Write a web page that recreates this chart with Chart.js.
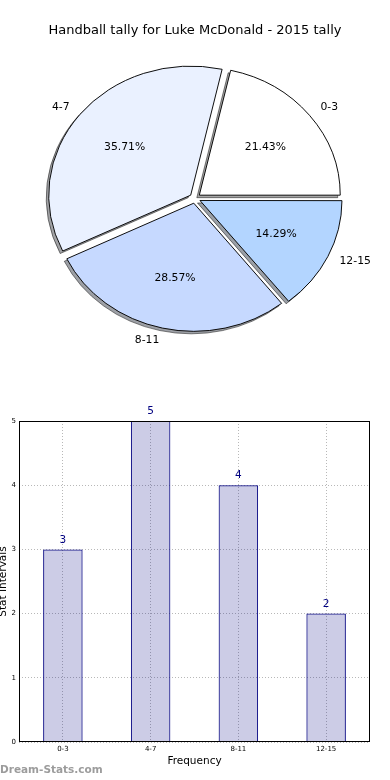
<!DOCTYPE html>
<html>
<head>
<meta charset="utf-8">
<script src="https://cdn.jsdelivr.net/npm/chart.js@4.4.1/dist/chart.umd.min.js"></script>
<style>
  html, body { margin: 0; padding: 0; background: #fff; width: 390px; height: 780px; overflow: hidden; }
  #pieCanvas { position: absolute; left: 0; top: 0; }
  #barCanvas { position: absolute; left: 0; top: 390px; }
  #wm { position: absolute; left: 0; top: 763px; font: bold 10.5px "DejaVu Sans", sans-serif; line-height: 12px; color: #9c9c9c; white-space: nowrap; }
</style>
</head>
<body>
<canvas id="pieCanvas" width="390" height="358"></canvas>
<canvas id="barCanvas" width="390" height="390"></canvas>
<div id="wm">Dream-Stats.com</div>
<script>
// ---- data ----
const categories = ['0-3', '4-7', '8-11', '12-15'];
const counts = [3, 5, 4, 2];
const sliceColors = ['#ffffff', '#eaf1ff', '#c6d9ff', '#b3d5ff'];
const yTickValues = [0, 1, 2, 3, 4, 5];
const pieTitle = 'Handball tally for Luke McDonald - 2015 tally';
const xAxisTitle = 'Frequency';
const yAxisTitle = 'Stat Intervals';

// ---- pie (matplotlib draws counter-clockwise from 3 o'clock; Chart.js clockwise) ----
const pieLabels = categories.slice().reverse();
const pieValues = counts.slice().reverse();
const pieColors = sliceColors.slice().reverse();
const total = counts.reduce((a, b) => a + b, 0);

const SX = 1.1;          // horizontal stretch of the pie (ellipse)
const FONT = '"DejaVu Sans", sans-serif';

function hexToRgb(h) {
  const n = parseInt(h.slice(1), 16);
  return [(n >> 16) & 255, (n >> 8) & 255, n & 255];
}

const ellipsePlugin = {
  id: 'ellipsePie',
  beforeDatasetsDraw(chart) {
    const ctx = chart.ctx, a = chart.chartArea;
    const cx = (a.left + a.right) / 2, cy = (a.top + a.bottom) / 2;
    ctx.save();
    ctx.translate(cx, cy);
    ctx.scale(SX, 1);
    ctx.translate(-cx, -cy);
    // shadow pass
    const meta = chart.getDatasetMeta(0);
    ctx.save();
    ctx.translate(-2.5 / SX, 2.5);
    meta.data.forEach((arc, i) => {
      const rgb = hexToRgb(pieColors[i]);
      const clone = Object.create(Object.getPrototypeOf(arc));
      Object.assign(clone, arc);
      clone.options = Object.assign({}, arc.options, {
        backgroundColor: `rgba(${rgb[0] * 0.3},${rgb[1] * 0.3},${rgb[2] * 0.3},0.5)`,
        borderColor: 'rgba(0,0,0,0.5)'
      });
      clone.draw(ctx);
    });
    ctx.restore();
  },
  afterDatasetsDraw(chart) {
    const ctx = chart.ctx;
    ctx.restore();
    const a = chart.chartArea;
    const cx = (a.left + a.right) / 2, cy = (a.top + a.bottom) / 2;
    const meta = chart.getDatasetMeta(0);
    ctx.save();
    ctx.fillStyle = '#000';
    ctx.font = `10.8px ${FONT}`;
    ctx.textBaseline = 'middle';
    meta.data.forEach((arc, i) => {
      const mid = (arc.startAngle + arc.endAngle) / 2;
      const d = (arc.options.offset || 0) / 4;
      const R = arc.outerRadius;
      const c = Math.cos(mid), s = Math.sin(mid);
      // outer label
      const lx = cx + SX * c * (d + 1.1 * R);
      const ly = cy + s * (d + 1.1 * R);
      ctx.textAlign = c > 0 ? 'left' : 'right';
      ctx.fillText(pieLabels[i], lx, ly);
      // percentage
      const px = cx + SX * c * (d + 0.6 * R);
      const py = cy + s * (d + 0.6 * R);
      ctx.textAlign = 'center';
      ctx.fillText((pieValues[i] / total * 100).toFixed(2) + '%', px, py);
    });
    ctx.restore();
  }
};

new Chart(document.getElementById('pieCanvas'), {
  type: 'pie',
  data: {
    labels: pieLabels,
    datasets: [{
      data: pieValues,
      backgroundColor: pieColors,
      borderColor: '#000',
      borderWidth: 0.9,
      offset: 20,
      hoverOffset: 20
    }]
  },
  options: {
    responsive: false,
    animation: false,
    events: [],
    rotation: 90,
    radius: 128,
    layout: { padding: 0 },
    plugins: {
      legend: { display: false },
      tooltip: { enabled: false },
      title: {
        display: true,
        text: pieTitle,
        color: '#000',
        font: { family: FONT, size: 13, weight: 'normal' },
        padding: { top: 23, bottom: 0 }
      }
    }
  },
  plugins: [ellipsePlugin]
});

// ---- bar chart ----
const barExtras = {
  id: 'barExtras',
  afterDatasetsDraw(chart) {
    const ctx = chart.ctx;
    const meta = chart.getDatasetMeta(0);
    ctx.save();
    ctx.fillStyle = '#000080';
    ctx.font = `10.5px ${FONT}`;
    ctx.textAlign = 'center';
    ctx.textBaseline = 'middle';
    meta.data.forEach((bar, i) => {
      ctx.fillText(String(counts[i]), bar.x, bar.y - 9.5);
    });
    ctx.restore();
  },
  afterDraw(chart) {
    const ctx = chart.ctx, a = chart.chartArea;
    ctx.save();
    ctx.strokeStyle = '#000';
    ctx.lineWidth = 1;
    ctx.strokeRect(Math.round(a.left) + 0.5, Math.round(a.top) + 0.5,
                   Math.round(a.right - a.left) - 1, Math.round(a.bottom - a.top) - 1);
    ctx.restore();
  }
};

new Chart(document.getElementById('barCanvas'), {
  type: 'bar',
  data: {
    labels: categories,
    datasets: [{
      data: counts,
      backgroundColor: 'rgba(0,0,128,0.2)',
      borderColor: '#000080',
      borderWidth: 1,
      barPercentage: 0.45,
      categoryPercentage: 1
    }]
  },
  options: {
    responsive: false,
    animation: false,
    events: [],
    layout: { padding: { top: 31, right: 20, left: 0, bottom: 0 } },
    scales: {
      x: {
        offset: true,
        z: 1,
        grid: { display: true, offset: false, color: '#b8b8b8', lineWidth: 1, drawTicks: false },
        border: { display: false, dash: [1, 2] },
        ticks: { color: '#000', font: { family: FONT, size: 7 }, padding: 3 },
        title: { display: true, text: xAxisTitle, color: '#000', font: { family: FONT, size: 10.5 }, padding: { top: -1, bottom: 12 } }
      },
      y: {
        min: yTickValues[0],
        max: yTickValues[yTickValues.length - 1],
        z: 1,
        afterBuildTicks(scale) { scale.ticks = yTickValues.map(v => ({ value: v })); },
        afterFit(scale) { scale.width = 19; },
        grid: { display: true, color: '#b8b8b8', lineWidth: 1, drawTicks: false },
        border: { display: false, dash: [1, 2] },
        ticks: { color: '#000', font: { family: FONT, size: 7 }, padding: 3 },
        title: { display: true, text: yAxisTitle, color: '#000', font: { family: FONT, size: 10.5 }, padding: { top: -3, bottom: 0 } }
      }
    },
    plugins: {
      legend: { display: false },
      tooltip: { enabled: false }
    }
  },
  plugins: [barExtras]
});
</script>
</body>
</html>
